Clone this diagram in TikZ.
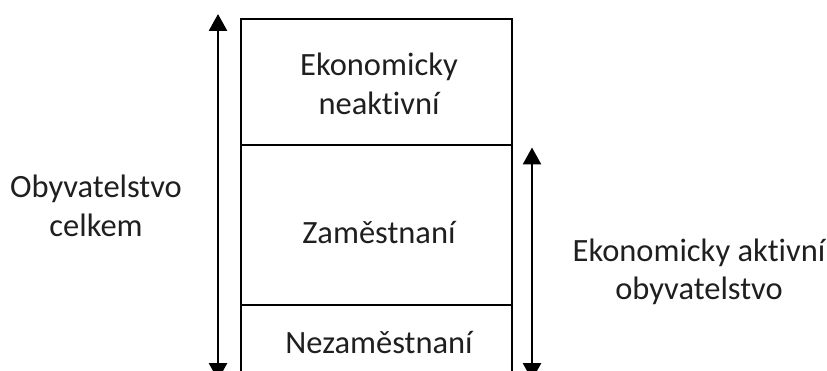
\documentclass[tikz,border=0pt]{standalone}
\usepackage{fontspec}
\setmainfont{Carlito}[Ligatures=NoCommon]
\usetikzlibrary{arrows.meta}
\begin{document}
\begin{tikzpicture}[x=1pt,y=-1pt,
  cell/.style={draw=black, line width=2.8pt, minimum width=271pt, inner sep=0pt, outer sep=0pt},
  lbl/.style={font=\fontsize{32.5}{39}\selectfont, align=center, anchor=base, inner sep=0pt, text=black!88},
  dbl/.style={line width=2.8pt, {Triangle[width=18pt,length=17pt]}-{Triangle[width=18pt,length=17pt]}}]
\useasboundingbox (0,0) rectangle (827,371);
\clip (0,0) rectangle (827,371);
\node[cell, minimum height=126pt, anchor=north west] (top) at (241,19) {};
\node[cell, minimum height=160pt, anchor=north west] (mid) at (241,145) {};
\node[cell, minimum height=100pt, anchor=north west] (bot) at (241,305) {};
\node[lbl] (t1) at (379,115) {Ekonomicky\\neaktivní};
\node[lbl] (t2) at (379,244) {Zaměstnaní};
\node[lbl] (t3) at (379,353) {Nezaměstnaní};
\node[lbl] (t4) at (96,237) {Obyvatelstvo\\celkem};
\node[lbl] (t5) at (699,300) {Ekonomicky aktivní\\obyvatelstvo};
\coordinate (la) at (218,14);
\coordinate (lb) at (218,380);
\coordinate (ra) at (532,147.5);
\coordinate (rb) at (532,380);
\draw[dbl] (lb) -- (la);
\draw[dbl] (rb) -- (ra);
\end{tikzpicture}
\end{document}
